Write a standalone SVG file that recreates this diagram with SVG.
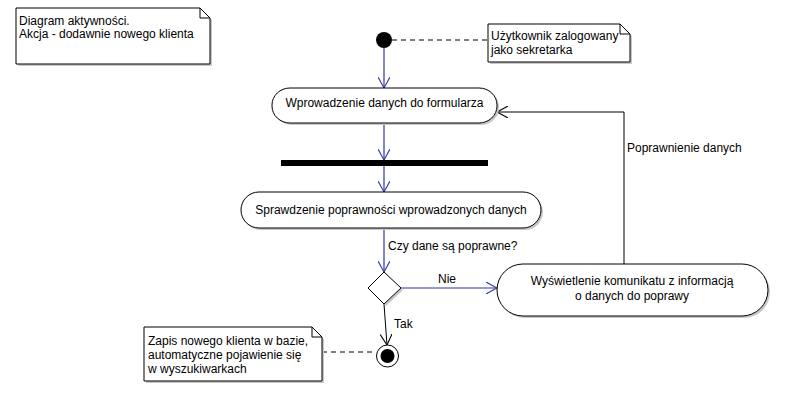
<svg xmlns="http://www.w3.org/2000/svg" width="790" height="412" viewBox="0 0 790 412">
<style>
text{font-family:"Liberation Sans",Arial,sans-serif;font-size:12px;fill:#000}
.box{fill:#fff;stroke:#000;stroke-width:1}
.sh{fill:#c8c8c8;stroke:none}
.flow{stroke:#3535a8;stroke-width:1.2;fill:none}
.blk{stroke:#000;stroke-width:1;fill:none}
.dash{stroke:#000;stroke-width:1;stroke-dasharray:5,4;fill:none}
</style>
<defs>
<marker id="ab" markerWidth="12" markerHeight="12" refX="11" refY="6" orient="auto" markerUnits="userSpaceOnUse"><path d="M0,0 L11,6 L0,12" fill="none" stroke="#3535a8" stroke-width="1.1"/></marker>
<marker id="ak" markerWidth="12" markerHeight="12" refX="11" refY="6" orient="auto" markerUnits="userSpaceOnUse"><path d="M0,0 L11,6 L0,12" fill="none" stroke="#000" stroke-width="1.1"/></marker>
</defs>
<g id="connectors">
<line class="dash" x1="392" y1="40" x2="488" y2="40"/>
<line class="flow" x1="384" y1="48" x2="384" y2="88" marker-end="url(#ab)"/>
<line class="flow" x1="384" y1="123" x2="384" y2="160" marker-end="url(#ab)"/>
<line class="flow" x1="384" y1="166" x2="384" y2="192" marker-end="url(#ab)"/>
<line class="flow" x1="384" y1="228" x2="384" y2="272" marker-end="url(#ab)"/>
<line class="flow" x1="401" y1="288" x2="497" y2="288" marker-end="url(#ab)"/>
<polyline class="blk" points="624,264 624,112 497,112" marker-end="url(#ak)"/>
<line class="blk" x1="384" y1="304" x2="387" y2="345" marker-end="url(#ak)"/>
<line class="dash" x1="322" y1="352" x2="376" y2="352"/>
<text x="388" y="250">Czy dane są poprawne?</text>
<text x="438" y="283">Nie</text>
<text x="394" y="328">Tak</text>
<text x="627" y="152">Poprawnienie danych</text>
</g>
<g id="note1">
<path class="sh" d="M18,10 H202 L212,20 V66 H18 Z"/>
<path class="box" d="M16,8 H200 L210,18 V64 H16 Z"/>
<path class="blk" d="M200,8 V18 H210"/>
<text x="19" y="25">Diagram aktywności.</text>
<text x="19" y="38">Akcja - dodawnie nowego klienta</text>
</g>
<g id="start">
<circle cx="384" cy="40" r="8" fill="#000"/>
</g>
<g id="note2">
<path class="sh" d="M490,26 H622 L632,36 V64 H490 Z"/>
<path class="box" d="M488,24 H620 L630,34 V62 H488 Z"/>
<path class="blk" d="M620,24 V34 H630"/>
<text x="491" y="40">Użytkownik zalogowany</text>
<text x="491" y="54">jako sekretarka</text>
</g>
<g id="act1">
<rect class="sh" x="274" y="90" width="225" height="35" rx="18" ry="17"/>
<rect class="box" x="272" y="88" width="225" height="35" rx="18" ry="17"/>
<text x="384.5" y="107" text-anchor="middle">Wprowadzenie danych do formularza</text>
</g>
<g id="fork">
<rect x="281" y="160" width="207" height="6" fill="#000"/>
</g>
<g id="act2">
<rect class="sh" x="243" y="194" width="300" height="36" rx="18" ry="18"/>
<rect class="box" x="241" y="192" width="300" height="36" rx="18" ry="18"/>
<text x="391" y="214" text-anchor="middle">Sprawdzenie poprawności wprowadzonych danych</text>
</g>
<g id="decision">
<path class="sh" d="M386,274 L403,290 L386,306 L370,290 Z"/>
<path class="box" d="M384,272 L401,288 L384,304 L368,288 Z"/>
</g>
<g id="act3">
<rect class="sh" x="499" y="266" width="271" height="52" rx="26" ry="26"/>
<rect class="box" x="497" y="264" width="271" height="52" rx="26" ry="26"/>
<text x="632" y="285" text-anchor="middle">Wyświetlenie komunikatu z informacją</text>
<text x="632" y="300" text-anchor="middle">o danych do poprawy</text>
</g>
<g id="end">
<circle cx="387.5" cy="356" r="11" fill="#fff" stroke="#000" stroke-width="1"/>
<circle cx="387.5" cy="356" r="7" fill="#000"/>
</g>
<g id="note3">
<path class="sh" d="M146,329 H314 L324,339 V383 H146 Z"/>
<path class="box" d="M144,327 H312 L322,337 V381 H144 Z"/>
<path class="blk" d="M312,327 V337 H322"/>
<text x="148" y="345">Zapis nowego klienta w bazie,</text>
<text x="148" y="359">automatyczne pojawienie się</text>
<text x="148" y="373">w wyszukiwarkach</text>
</g>
</svg>
